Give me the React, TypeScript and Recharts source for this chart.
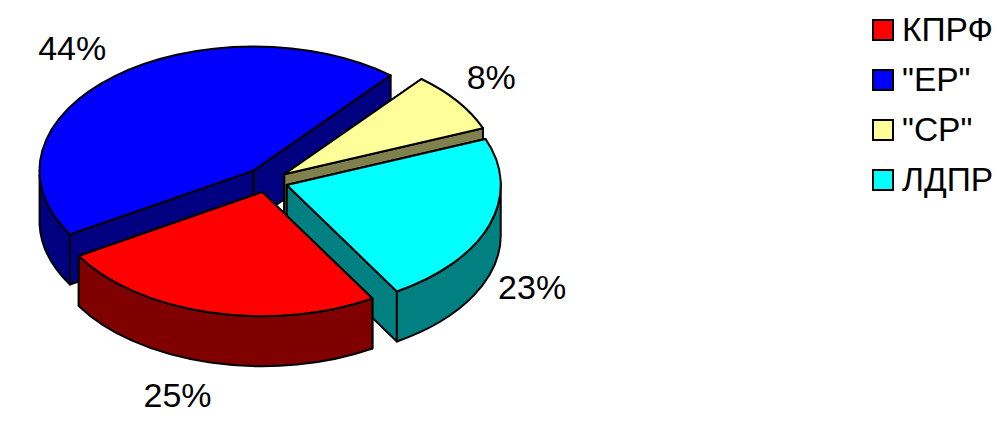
import React from "react";
import { PieChart, Pie, Cell, Legend } from "recharts";

const categories = ["КПРФ", '"ЕР"', '"СР"', "ЛДПР"];
const values = [25, 44, 8, 23];
const topColors = ["#ff0000", "#0000ff", "#ffff99", "#00ffff"];
const sideColors = ["#800000", "#000080", "#80804d", "#008080"];

// painter's order: back wedges first, КПРФ has to land on top of "ЕР"
const drawOrder = [1, 2, 3, 0];
const explodeBy = [20, 23, 20, 20];
const labelNudge = [
  [-11, 9],
  [-20, -8],
  [-3, -10],
  [3, 0],
];

const chartData = drawOrder.map((i) => ({
  name: categories[i],
  value: values[i],
  top: topColors[i],
  side: sideColors[i],
  explode: explodeBy[i],
  nudge: labelNudge[i],
}));

// fake 3D look
const TILT = 0.58;
const DEPTH = 50;
const RADIUS = 214;
const FONT = "Arial, 'Liberation Sans', sans-serif";

const rad = (a: number) => (a * Math.PI) / 180;

// the original has some perspective, the front of the pie reads as turned a bit
const warp = (a: number) => a + 1.5 * (1 - Math.sin(rad(a)) * 0.96 - Math.cos(rad(a)) * 0.28);

function Wedge3D(props: any) {
  const { cx, cy, outerRadius: r, startAngle, endAngle, midAngle, payload } = props;
  const ax = cx + payload.explode * Math.cos(rad(midAngle));
  const ay = cy - payload.explode * TILT * Math.sin(rad(midAngle));
  const px = (a: number) => ax + r * Math.cos(rad(warp(a)));
  const py = (a: number) => ay - r * TILT * Math.sin(rad(warp(a)));
  const ry = r * TILT;
  const large = Math.abs(startAngle - endAngle) > 180 ? 1 : 0;

  const wall = (a: number) =>
    `M${ax},${ay} L${px(a)},${py(a)} L${px(a)},${py(a) + DEPTH} L${ax},${ay + DEPTH} Z`;

  // only the front half of the rim can be seen, angles run clockwise (downwards)
  const rims: string[] = [];
  for (const [hi, lo] of [
    [0, -180],
    [-360, -540],
  ]) {
    const a0 = Math.min(startAngle, hi);
    const a1 = Math.max(endAngle, lo);
    if (a0 > a1) {
      rims.push(
        `M${px(a0)},${py(a0)} A${r},${ry} 0 0 1 ${px(a1)},${py(a1)} L${px(a1)},${py(a1) + DEPTH} A${r},${ry} 0 0 0 ${px(a0)},${py(a0) + DEPTH} Z`
      );
    }
  }

  const line = { stroke: "#000", strokeWidth: 2, strokeLinejoin: "round" as const };
  return (
    <g>
      <path d={wall(startAngle)} fill={payload.side} {...line} />
      <path d={wall(endAngle)} fill={payload.side} {...line} />
      {rims.map((d, i) => (
        <path key={i} d={d} fill={payload.side} {...line} />
      ))}
      <path
        d={`M${ax},${ay} L${px(startAngle)},${py(startAngle)} A${r},${ry} 0 ${large} 1 ${px(endAngle)},${py(endAngle)} Z`}
        fill={payload.top}
        {...line}
      />
    </g>
  );
}

const renderLabel = (props: any) => {
  const { cx, cy, midAngle, outerRadius, payload } = props;
  const s = Math.sin(rad(midAngle));
  const x = cx + outerRadius * 1.3 * Math.cos(rad(midAngle)) + payload.nudge[0];
  const y = cy - outerRadius * 1.3 * TILT * s + (s < 0 ? DEPTH : 0) + payload.nudge[1];
  return (
    <text x={x} y={y} textAnchor="middle" dominantBaseline="central" fontSize={34} fontFamily={FONT} fill="#000">
      {payload.value}%
    </text>
  );
};

const renderLegend = () => (
  <div>
    {categories.map((name, i) => (
      <div key={name} style={{ display: "flex", alignItems: "center", height: 50 }}>
        <span
          style={{
            width: 18,
            height: 18,
            background: topColors[i],
            border: "2px solid #000",
            marginRight: 8,
            flex: "none",
          }}
        />
        <span style={{ fontFamily: FONT, fontSize: 33.5, color: "#000", whiteSpace: "nowrap" }}>{name}</span>
      </div>
    ))}
  </div>
);

export default function App() {
  return (
    <div style={{ position: "absolute", left: 0, top: 0, width: 1000, height: 442, background: "#fff", overflow: "hidden" }}>
      <PieChart width={1000} height={442} margin={{ top: 0, right: 0, bottom: 0, left: 0 }}>
        <Pie
          data={chartData}
          dataKey="value"
          nameKey="name"
          cx={268}
          cy={181}
          outerRadius={RADIUS}
          innerRadius={0}
          startAngle={-151.6}
          endAngle={-511.6}
          stroke="none"
          shape={Wedge3D}
          label={renderLabel}
          labelLine={false}
          isAnimationActive={false}
        >
          {chartData.map((d) => (
            <Cell key={d.name} fill={d.top} />
          ))}
        </Pie>
        <Legend
          content={renderLegend}
          layout="vertical"
          wrapperStyle={{ position: "absolute", left: 872, top: 5, width: 128, bottom: "auto" }}
        />
      </PieChart>
    </div>
  );
}
